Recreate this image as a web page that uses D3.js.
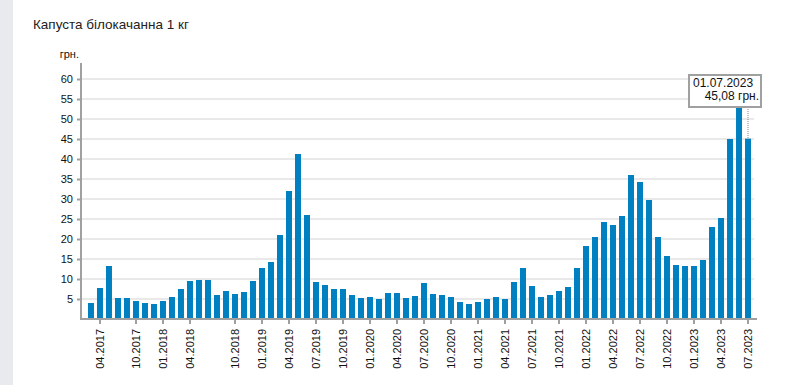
<!DOCTYPE html>
<html>
<head>
<meta charset="utf-8">
<script src="https://cdn.jsdelivr.net/npm/d3@7"></script>
<style>
  body { margin: 0; background: #fff; font-family: "Liberation Sans", Arial, sans-serif; }
  svg { display: block; }
</style>
</head>
<body>
<div id="chart"></div>
<script>
// Chart data: month labels (mm.yyyy) and price in UAH
const months = [
	"03.2017", "04.2017", "05.2017", "06.2017", "08.2017", "10.2017", "11.2017", "12.2017",
	"01.2018", "02.2018", "03.2018", "04.2018", "05.2018", "06.2018", "08.2018", "09.2018",
	"10.2018", "11.2018", "12.2018",
	"01.2019", "02.2019", "03.2019", "04.2019", "05.2019", "06.2019", "07.2019", "08.2019", "09.2019", "10.2019", "11.2019", "12.2019",
	"01.2020", "02.2020", "03.2020", "04.2020", "05.2020", "06.2020", "07.2020", "08.2020", "09.2020", "10.2020", "11.2020", "12.2020",
	"01.2021", "02.2021", "03.2021", "04.2021", "05.2021", "06.2021", "07.2021", "08.2021", "09.2021", "10.2021", "11.2021", "12.2021",
	"01.2022", "02.2022", "03.2022", "04.2022", "05.2022", "06.2022", "07.2022", "08.2022", "09.2022", "10.2022", "11.2022", "12.2022",
	"01.2023", "02.2023", "03.2023", "04.2023", "05.2023", "06.2023", "07.2023"
];
const prices = [
	4.0, 7.75, 13.25, 5.25, 5.25, 4.5, 4.0, 3.75,
	4.5, 5.5, 7.5, 9.5, 9.75, 9.75, 6.0, 7.0,
	6.25, 6.75, 9.5,
	12.75, 14.25, 21.0, 32.0, 41.25, 26.0, 9.25, 8.5, 7.5, 7.5, 6.0, 5.25,
	5.5, 5.0, 6.5, 6.5, 5.25, 5.75, 9.0, 6.25, 6.0, 5.5, 4.25, 3.75,
	4.25, 5.0, 5.5, 5.0, 9.25, 12.75, 8.25, 5.5, 6.0, 7.0, 8.0, 12.75,
	18.25, 20.5, 24.25, 23.5, 25.75, 36.0, 34.25, 29.75, 20.5, 15.75, 13.5, 13.25,
	13.25, 14.75, 23.0, 25.25, 45.0, 56.0, 45.08
];
const yTicks = [5, 10, 15, 20, 25, 30, 35, 40, 45, 50, 55, 60];
const labelMonths = ["01", "04", "07", "10"];

const title = "Капуста білокачанна 1 кг";
const unit = "грн.";

const width = 787, height = 385;
const plotLeft = 81, plotRight = 757, plotTop = 63, plotBottom = 319;

let svg = d3.select("#chart")
	.append("svg")
	.attr("width", width)
	.attr("height", height);

// left gray strip of the page
svg.append("rect")
	.attr("x", 0).attr("y", 0)
	.attr("width", 13).attr("height", height)
	.attr("fill", "#e9eaee");

let x = d3.scaleBand()
	.domain(months)
	.range([plotLeft + 0.5, plotRight + 0.5])
	.paddingInner(1 / 3)
	.paddingOuter(0.72);

let y = d3.scaleLinear()
	.domain([0, 64])
	.range([plotBottom, plotTop]);

// grid lines
svg.append("g")
	.selectAll("line")
	.data(yTicks)
	.enter()
	.append("line")
	.attr("x1", plotLeft)
	.attr("x2", plotRight - 3)
	.attr("y1", function(d) {return y(d)})
	.attr("y2", function(d) {return y(d)})
	.attr("stroke", "#e9e9e9")
	.attr("stroke-width", 2);

// bars
svg.append("g")
	.selectAll("rect")
	.data(prices)
	.enter()
	.append("rect")
	.attr("x", function(d, i) {return x(months[i])})
	.attr("y", function(d) {return y(d)})
	.attr("width", x.bandwidth())
	.attr("height", function(d) {return y(0) - y(d)})
	.attr("fill", "#0080c1");

// Y axis
let yAxis = svg.append("g")
	.attr("transform", "translate(" + plotLeft + ",0)")
	.call(d3.axisLeft(y).tickValues(yTicks).tickSize(4).tickPadding(4));
yAxis.select(".domain").remove();
yAxis.selectAll(".tick line").attr("stroke", "#a0a0a0").attr("stroke-width", 2);
yAxis.selectAll("text")
	.style("font-family", "Liberation Sans, Arial, sans-serif")
	.style("font-size", "11px")
	.attr("fill", "#111");

svg.append("line")
	.attr("x1", plotLeft).attr("x2", plotLeft)
	.attr("y1", plotTop).attr("y2", plotBottom + 1)
	.attr("stroke", "#a0a0a0")
	.attr("stroke-width", 2);

// X axis
let shown = months.filter(function(m) {return labelMonths.indexOf(m.slice(0, 2)) >= 0 && m != "03.2017"});
let xAxis = svg.append("g")
	.attr("transform", "translate(0," + plotBottom + ")")
	.call(d3.axisBottom(x).tickValues(shown).tickSize(5).tickPadding(6));
xAxis.select(".domain").remove();
xAxis.selectAll(".tick line").attr("stroke", "#a0a0a0").attr("stroke-width", 2);
xAxis.selectAll("text")
	.style("font-family", "Liberation Sans, Arial, sans-serif")
	.style("font-size", "11px")
	.attr("fill", "#111")
	.attr("transform", "rotate(-90)")
	.attr("x", -10)
	.attr("y", 0)
	.attr("dy", "0.35em")
	.style("text-anchor", "end");

svg.append("line")
	.attr("x1", plotLeft - 1).attr("x2", plotRight)
	.attr("y1", plotBottom).attr("y2", plotBottom)
	.attr("stroke", "#a0a0a0")
	.attr("stroke-width", 2);

// title and unit
svg.append("text")
	.attr("x", 33).attr("y", 29)
	.style("font-size", "13.5px")
	.attr("fill", "#222")
	.text(title);

svg.append("text")
	.attr("x", 79).attr("y", 58)
	.style("text-anchor", "end")
	.style("font-size", "11px")
	.attr("fill", "#111")
	.text(unit);

// tooltip on the last point
let last = months.length - 1;
let cx = x(months[last]) + x.bandwidth() / 2;
let boxW = 72, boxH = 32, boxX = cx + 13 - boxW, boxY = 75;

svg.append("line")
	.attr("x1", cx).attr("x2", cx)
	.attr("y1", boxY + boxH)
	.attr("y2", y(prices[last]))
	.attr("stroke", "#888")
	.attr("stroke-width", 1)
	.attr("stroke-dasharray", "1,1");

svg.append("rect")
	.attr("x", boxX).attr("y", boxY)
	.attr("width", boxW).attr("height", boxH)
	.attr("fill", "#fff")
	.attr("stroke", "#a0a0a0")
	.attr("stroke-width", 2);

let parts = months[last].split(".");
svg.append("text")
	.attr("x", boxX + 4).attr("y", boxY + 12)
	.style("font-size", "12px")
	.attr("fill", "#111")
	.text("01." + parts[0] + "." + parts[1]);

svg.append("text")
	.attr("x", boxX + boxW - 2).attr("y", boxY + 25)
	.style("text-anchor", "end")
	.style("font-size", "12px")
	.attr("fill", "#111")
	.text(prices[last].toFixed(2).replace(".", ",") + " " + unit);
</script>
</body>
</html>
